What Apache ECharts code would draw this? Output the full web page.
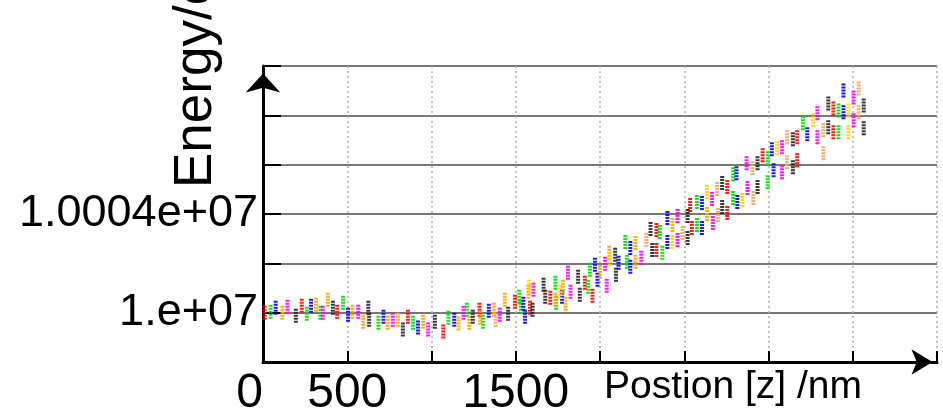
<!DOCTYPE html>
<html><head><meta charset="utf-8">
<script src="https://cdn.jsdelivr.net/npm/echarts@6/dist/echarts.min.js"></script>
<style>html,body{margin:0;padding:0;background:#fff}#c{width:943px;height:414px}</style>
</head><body><div id="c"></div>
<script>
// Position [z] /nm , Energy/ev
const redPts = [[10,10000000],[230,10000283],[440,10000040],[860,9999838],[1070,9999232],[1285,10000121],[1495,10000444],[1585,10000202],[1705,10000606],[1910,10001212],[1955,10000687],[2335,10003353],[2335,10002545],[2535,10004363],[2545,10003434],[2755,10005090],[2755,10004040],[2965,10006383],[3170,10007110],[3170,10006181],[3385,10008282],[3385,10007312]];
const greenPts = [[45,10000040],[260,9999960],[340,10000000],[475,10000404],[685,9999596],[890,9999596],[1100,9999798],[1210,10000121],[1305,9999636],[1520,10000646],[1530,10000242],[1735,10001212],[1740,10000404],[1940,10001737],[1930,10001050],[2150,10002868],[2160,10002060],[2355,10003272],[2370,10002424],[2575,10004484],[2575,10003555],[2790,10005616],[2790,10004646],[2995,10006262],[2995,10005292],[3205,10007676],[3415,10008201],[3415,10007312]];
const bluePts = [[75,10000202],[285,10000283],[505,9999919],[715,9999838],[920,9999394],[1135,9999717],[1340,10000081],[1545,10000364],[1555,9999838],[1775,10000646],[1970,10001939],[1985,10001333],[2110,10002020],[2180,10002626],[2180,10001858],[2400,10003838],[2400,10002868],[2605,10004444],[2605,10003434],[2810,10005656],[2815,10004484],[3020,10006626],[3030,10005777],[3230,10007232],[3445,10009009],[3445,10008120]];
const orangePts = [[115,10000000],[315,10000323],[385,10000525],[530,10000040],[595,9999636],[740,9999596],[800,9999717],[950,9999636],[1160,9999556],[1225,9999596],[1290,9999798],[1370,10000121],[1435,10000525],[1575,10000848],[1735,10000525],[1780,10001050],[1795,10000364],[2000,10001656],[2055,10002424],[2210,10002828],[2210,10002060],[2430,10003555],[2635,10004000]];
const yellowPts = [[1580,10001050],[1765,10000848],[2060,10002182],[2430,10002868],[2635,10004888],[2845,10004565],[3050,10006666],[3265,10007797],[3475,10008201],[3475,10007312]];
const magentaPts = [[145,10000242],[355,10000000],[565,10000040],[770,9999717],[980,9999313],[1190,10000000],[1405,9999919],[1605,10000929],[1810,10001616],[1825,10000848],[2030,10001980],[2040,10001091],[2245,10002222],[2460,10003919],[2460,10002949],[2665,10004606],[2670,10003636],[2870,10006060],[2875,10005050],[3080,10006706],[3080,10005696],[3290,10008080],[3290,10007110],[3505,10008726],[3505,10007797]];
const sandyPts = [[1380,9999717],[2275,10002949],[2490,10003232],[2695,10005010],[2700,10003959],[2905,10005858],[2910,10004646],[3110,10007110],[3110,10006100],[3325,10007393],[3325,10006464],[3535,10009090],[3535,10008120]];
const blackPts = [[195,9999879],[415,10000202],[625,10000202],[630,9999717],[830,9999313],[1020,9999636],[1245,9999838],[1455,9999960],[1600,10000121],[1665,10001131],[1675,10000646],[1870,10001454],[1880,10000727],[2090,10002343],[2095,10001535],[2300,10003394],[2310,10002545],[2520,10003919],[2520,10003030],[2725,10005252],[2725,10004282],[2935,10006060],[2935,10005090],[3145,10007030],[3145,10005898],[3355,10008484],[3355,10007514],[3565,10008403],[3565,10007474]];

const xTickValues = [0, 500, 1500];
const xTickLabels = ['0', '500', '1500'];
const yTickValues = [10000000, 10004000];
const yTickLabels = ['1.e+07', '1.0004e+07'];
const xName = 'Postion [z] /nm';
const yName = 'Energy/ev';

const seriesDefs = [
  ['red', redPts, '#ff0000'], ['green', greenPts, '#00dd00'], ['blue', bluePts, '#0000ff'],
  ['orange', orangePts, '#ffa500'], ['yellow', yellowPts, '#ffd200'], ['magenta', magentaPts, '#ff00ff'],
  ['sandy', sandyPts, '#f4a460'], ['black', blackPts, '#222222']
];
const dotted = 'path://M0,0h2v2h-2zM0,3h2v2h-2zM0,6h2v2h-2zM0,9h2v2h-2zM0,12h2v2h-2z';

const chart = echarts.init(document.getElementById('c'), null, {renderer: 'canvas'});
chart.setOption({
  animation: false,
  backgroundColor: '#ffffff',
  grid: {left: 263, right: 6, top: 66, bottom: 52, containLabel: false, outerBoundsMode: 'none'},
  xAxis: {
    type: 'value', min: 0, max: 4000, interval: 500,
    name: xName, nameLocation: 'end', nameGap: -75, nameMoveOverlap: false,
    nameTextStyle: {fontFamily: 'Liberation Sans', fontSize: 39, color: '#000', align: 'right', verticalAlign: 'top', padding: [6, 0, 0, 0]},
    axisLine: {show: true, onZero: false, symbol: ['none', 'arrow'], symbolSize: [19, 21], symbolOffset: [0, -4.5], lineStyle: {color: '#000', width: 3}},
    axisTick: {show: true, inside: true, length: 11, lineStyle: {color: '#000', width: 2}},
    axisLabel: {
      fontFamily: 'Liberation Sans', fontSize: 48, color: '#000', margin: 8, alignMinLabel: 'right',
      formatter: v => { const i = xTickValues.indexOf(v); return i >= 0 ? xTickLabels[i] : ''; }
    },
    splitLine: {show: true, lineStyle: {color: '#b0b0b0', width: 1.5, type: [2, 3]}}
  },
  yAxis: {
    type: 'value', min: 9998000, max: 10010000, interval: 2000, scale: true,
    name: yName, nameLocation: 'end', nameGap: -122, nameRotate: 90, nameMoveOverlap: false,
    nameTextStyle: {fontFamily: 'Liberation Sans', fontSize: 53, color: '#000', align: 'left', verticalAlign: 'bottom', padding: [0, 0, 40, 0]},
    axisLine: {show: true, onZero: false, symbol: ['none', 'arrow'], symbolSize: [26, 19], symbolOffset: [0, -7.5], lineStyle: {color: '#000', width: 3}},
    axisTick: {show: true, inside: true, length: 18, lineStyle: {color: '#000', width: 2}},
    axisLabel: {
      fontFamily: 'Liberation Sans', fontSize: 45, color: '#000', margin: 5, padding: [8, 0, 0, 0],
      formatter: v => { const i = yTickValues.indexOf(v); return i >= 0 ? yTickLabels[i] : ''; }
    },
    splitLine: {show: true, lineStyle: {color: '#4a4a4a', width: 1.6}}
  },
  series: seriesDefs.map(([name, pts, col]) => ({
    name, type: 'scatter', data: pts, symbol: dotted, symbolSize: [4, 14],
    itemStyle: {color: col, opacity: 0.9}
  }))
});
</script></body></html>
